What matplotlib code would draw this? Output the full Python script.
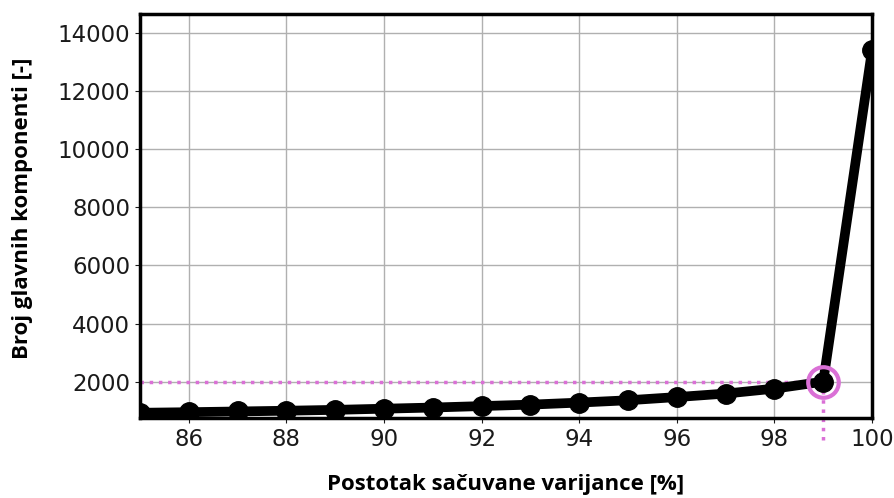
import matplotlib.pyplot as plt

plt.rcParams['font.family'] = ['DejaVu Sans']

# Retained variance [%] vs. number of principal components
variance = [85, 86, 87, 88, 89, 90, 91, 92, 93, 94, 95, 96, 97, 98, 99, 100]
components = [930, 950, 975, 1000, 1030, 1070, 1110, 1160, 1210, 1280,
              1360, 1470, 1590, 1760, 2000, 13400]
chosen_x = 99
chosen_y = 2000

fig = plt.figure(figsize=(8.94, 4.98), dpi=100)
ax = fig.add_axes([140 / 894, 80 / 498, 732 / 894, 404 / 498])

ax.plot(variance, components, color='black', linewidth=7,
        marker='o', markersize=14, zorder=3, clip_on=True)

# Highlight the selected point
ax.plot([85, chosen_x], [chosen_y, chosen_y], color='orchid', linestyle=':',
        linewidth=2.5, zorder=2)
ax.plot([chosen_x, chosen_x], [0, chosen_y], color='orchid', linestyle=':',
        linewidth=2.5, zorder=2, clip_on=False)
ax.plot([chosen_x], [chosen_y], marker='o', markersize=22, markerfacecolor='none',
        markeredgecolor='orchid', markeredgewidth=3, zorder=4, clip_on=False)

ax.set_xlim(85, 100)
ax.set_ylim(750, 14650)
ax.set_xticks(range(86, 101, 2))
ax.set_yticks(range(2000, 14001, 2000))
ax.grid(True, color='#b0b0b0', linewidth=1)
ax.set_axisbelow(True)
for s in ax.spines.values():
    s.set_linewidth(2.5)
ax.tick_params(labelsize=16.5, colors='#1a1a1a')

label_font = dict(family=['Open Sans', 'DejaVu Sans'], fontsize=16, fontweight='bold')
ax.set_xlabel('Postotak sačuvane varijance [%]', labelpad=17, **label_font)
ax.set_ylabel('Broj glavnih komponenti [-]', **label_font)
ax.yaxis.set_label_coords(-0.146, 0.52)

fig.savefig('out.png', dpi=100)
